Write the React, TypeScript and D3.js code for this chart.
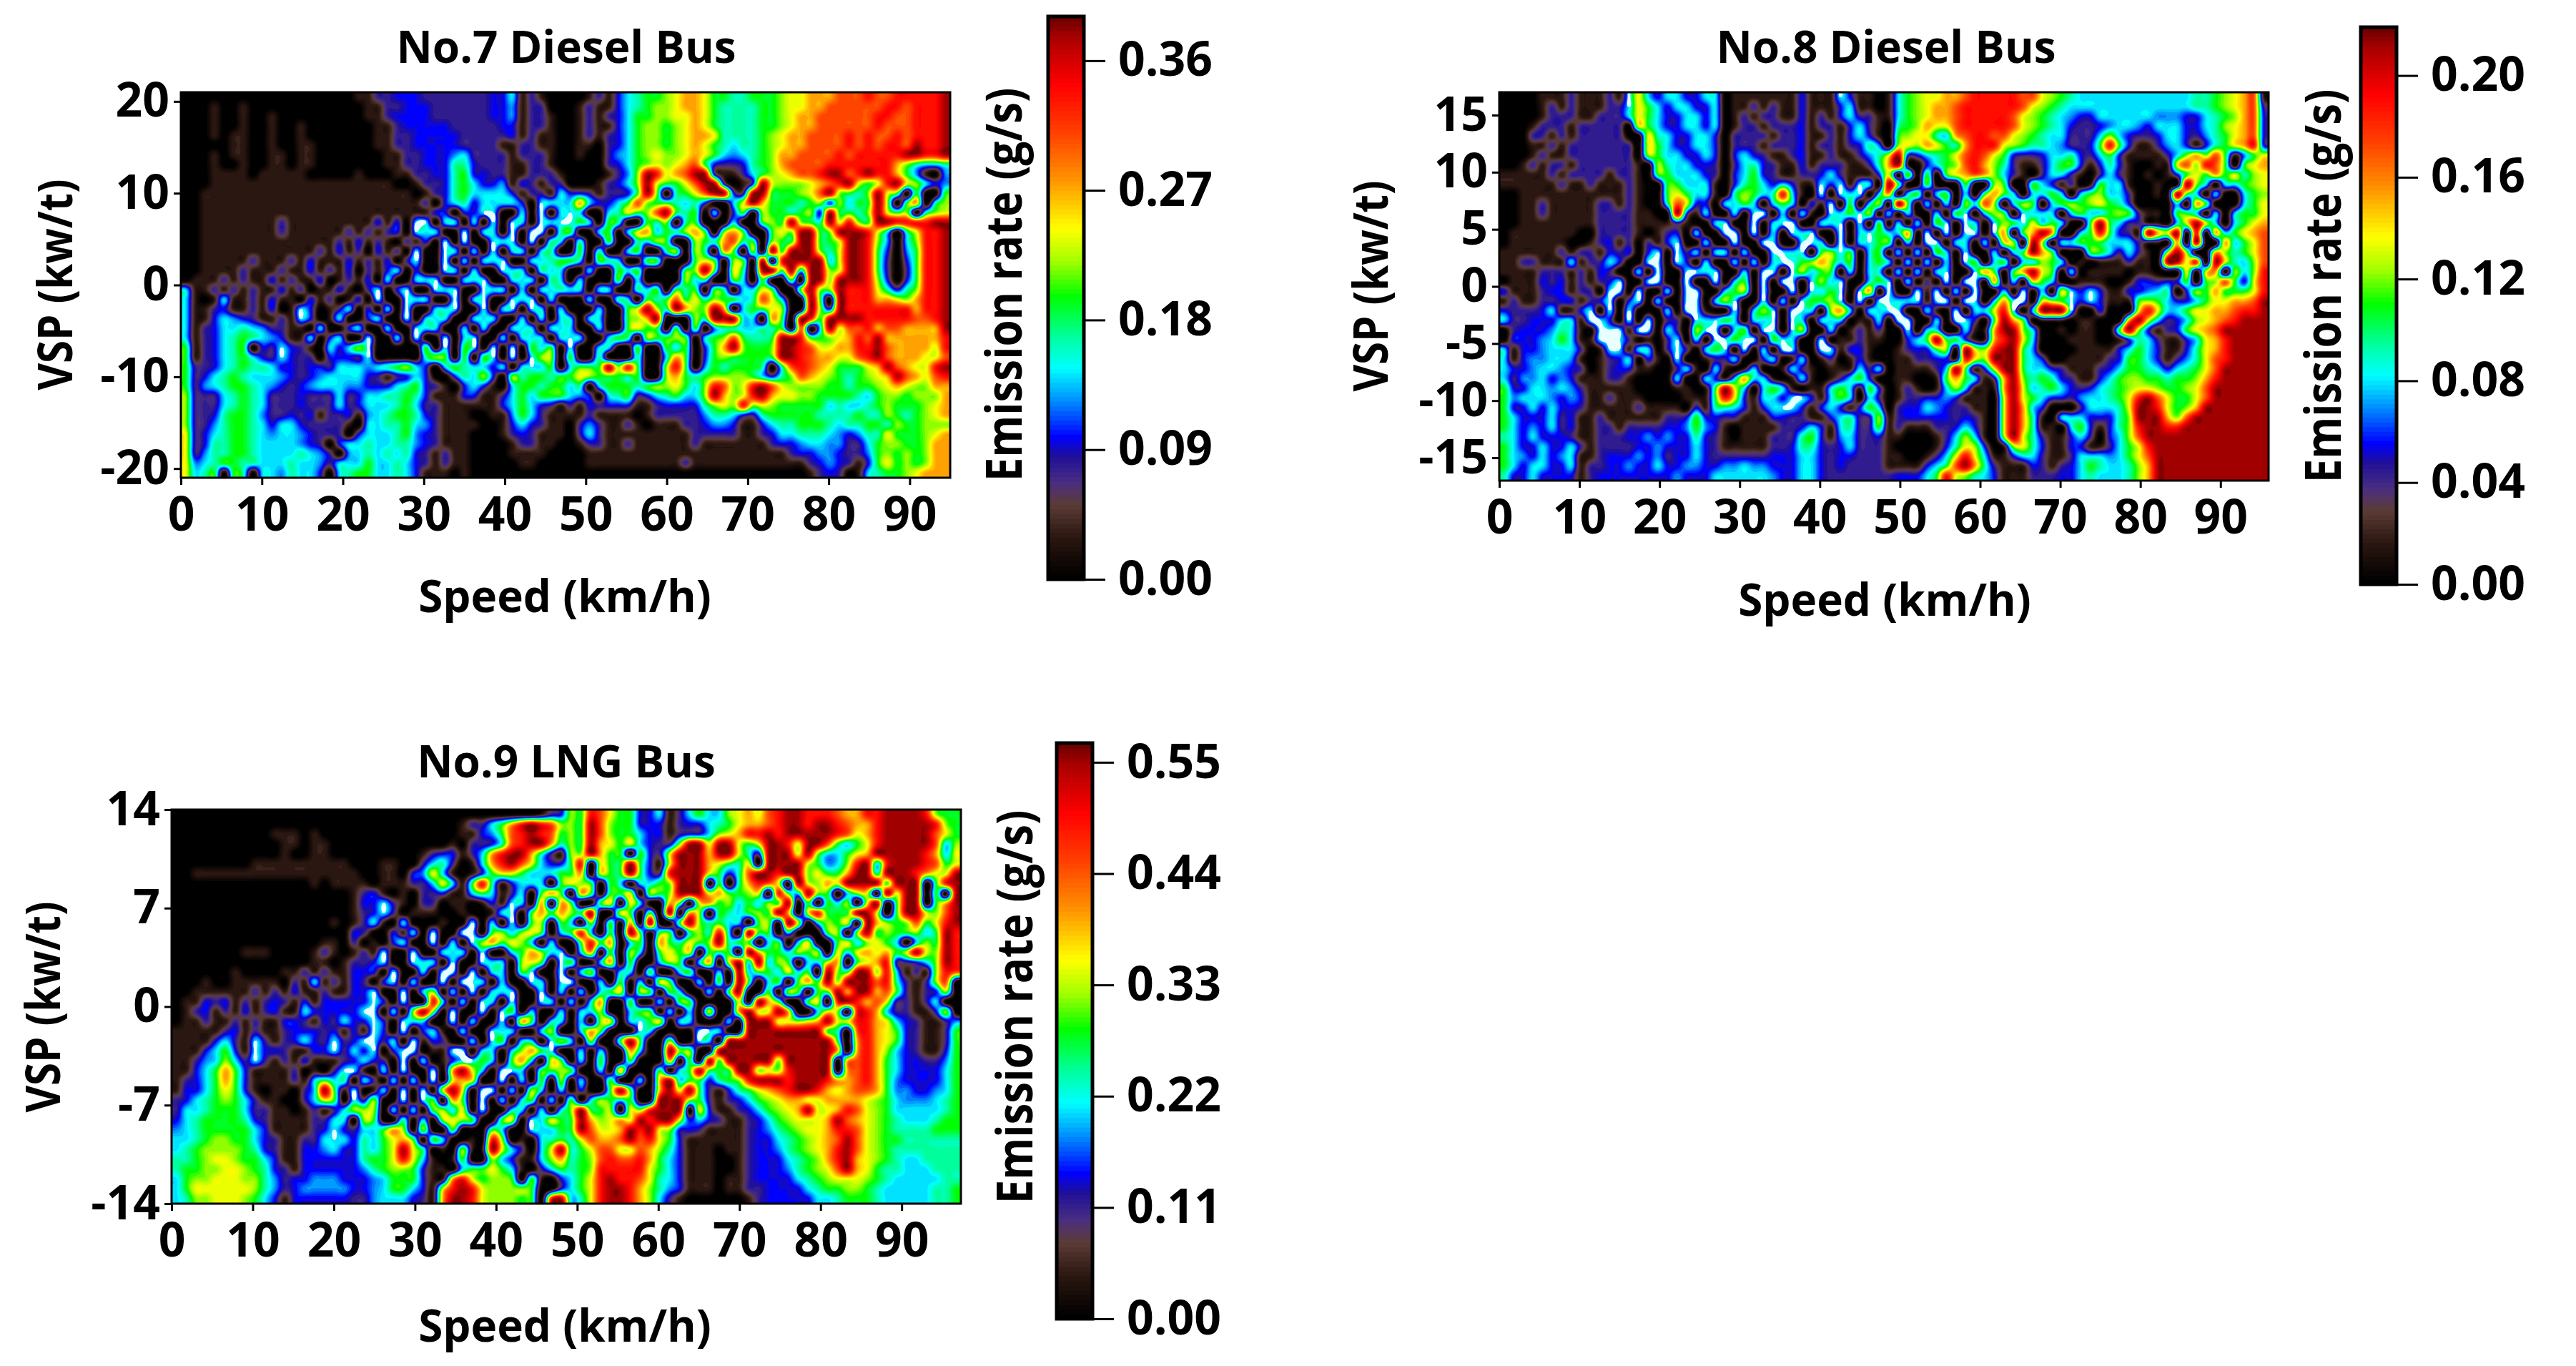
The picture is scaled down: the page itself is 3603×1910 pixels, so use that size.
import { useEffect, useRef } from "react"
import * as d3 from "d3"

// emission level, one character per cell, top row first
// levels run along the colour bar: 0 black ... 5 cyan ... 7 green ... 9 yellow ... d dark red, w = white-hot cyan
const no7Left = [
  "0000000000000000001122333222222233512100",
  "0001001000000000000112233322222233412200",
  "0001001001000000000112333322222233412210",
  "0001001001001000000011233333222223312210",
  "0001011001001000000011223333322222312110",
  "0000011001001100000011223333322221122110",
  "0001011001101100000001122333452222122210",
  "0001001001101100000001122333663222112210",
  "0001111011111000001000112233673322112221",
  "0001111111111111111111001223675334132122",
  "0011111111111111111111110123675w5w312215",
  "0011111111111111111111111203563555w30w5w",
  "0011111111111111111111111133033ww00w0w05",
  "001111111121111111113130ww05w0w0w0w50w5w",
  "001111111121111112121230w5w00w0w50w0ww06",
  "001111111111111121312102130w0w00w5w0w065",
  "0011111111111121312031 20w00w50w0w05w0w60",
  "00111112111213111312 1302w00w050w5w00w567",
  "00111121112113121302 13w0300w50w00w5w06w5",
  "01112121131211301213 0w00w5w00w5w00w5w065",
  "51121212113120113102w03w00w5w00w5w0w0w56",
  "5101w112131103120130w00w5w00w05w00w5w050",
  "511231121301w3012w030w0w00w5w00w05w0w50w",
  "511354321121w301w003w00w0w5w00w5w00w0w05",
  "51235565422110w003w00w00w5w00w0w00w5w0w5",
  "5123567654311w03w00w00w0w00w05w00w0w5w05",
  "7123567032w3210w3w8w0000070w07w0w0w07570",
  "7123567532w32203332w000006870707w0w0w880",
  "7223567665332332555456785305765w3w05w570",
  "7235676555432345555321235300365830867767",
  "724567765432345554433356732103w310577677",
  "8222567652223222523556676311133112575777",
  "8222567652223222523555675221111113575321",
  "8223677642232312231456776321110011475211",
  "8224677653553222210556675421111001353211",
  "9235677654554322203555674321110001232111",
  "9236677655554320355655664321110000122110",
  "9246677655556542045656563212110000111100",
  "9456776655565542555755653212110000011000",
  "9567076055465530567755653111010000000000",
]
const no7Right = [
  "001213567789aa97766777899aaabbbcbbcccccd",
  "012113567889aa97666677899aabbbbbbccbcccd",
  "0121235778899a9766667789aabbbbbbccbbcccd",
  "0121135788789a9766667789aabbbbbbcbbbcccd",
  "0121235788789aa96666789aabbbbcbcbbcbcccd",
  "0110235788789a976566789aabbbbcbcbccbdccd",
  "0100245789889a97545678aabbbbcbcccccddccd",
  "000023578989ab73223678abbbbccccccca86556",
  "00001248dc9abdd21125789abbcddbcdcca74104",
  "00012358d9779bdd2013d98889abcd979cd98534",
  "33212237d80679bdd32dd77789bd8768d9707007",
  "5a53357b87765630059da77767838577d807a068",
  "w50056978bd7670w03708776783d7768d9780689",
  "w75076007680670005007 87d876d9c87ddccccdd",
  "70057059a5768a708a700798dd78dddc95069ccd",
  "0600700658700876ab670877dd779ddc84058ccd",
  "0706005700680860a7080d7ddd869ddc73047ccd",
  "75076500770007970870d0cdddd59ddc72037ccd",
  "00500757000078d70960dd7d5dd89ddc72027ccd",
  "0500070500008560075070070dd8dddc83037ccd",
  "5w05w00657076707605597008d88dccc96368ccd",
  "00500650767b79687756b9500d70dcccaa98accd",
  "00050079d96da88da05779800d83dcccccccaccd",
  "w05w0078ad00086ddd550a70dc7ddddcccccbbcd",
  "5005007977070704665 56670b05d9bbcabbaaaad",
  "w5005760877870578b7667ddc7789acbdaaaaaac",
  "w00w500700757037ad8778ddcb99aaccdbaaaa9c",
  "70060006005a7037877777ddcbaa99bcdbaaa99b",
  "5777d8c7008c70476777606bcba97779adba99cd",
  "79877767008a767888875368ba9876789adba9bc",
  "560577767889758cb89cdb988887767789a988aa",
  "543056723567558da89cda99887777657887888a",
  "213233311233336898c89877777565567877789a",
  "112111101222224665326777776666766876789a",
  "02421121011122344311356677765 6677687788 8a",
  "0252111111111222221123556665434669777 89a",
  "0122112111111211111112334554422578877 8aa",
  "00111111111111111111111233443224787878aa",
  "001111111111211111111111123432 13797878aa",
  "00000000000000000000000001232015677 89aa",
]

const no8Left = [
  "0000111211121w9535533550111111 13111w3110",
  "0000121211122w9753553350112121 1311135110",
  "000012221122259753355350121221 1312135221",
  "000122212222209753355350122122 2312213521",
  "000221212222200965335530222212 2311213531",
  "000112122222220975335530222122 2312212364",
  "000121122222220875533530353211 2311211246",
  "001212212222221086553320256321 1312221126",
  "1111121222212210775553203573211223521113",
  "1111112112111210077555103675353 11w3w1w50",
  "001111111111121007975510687 56c510w0w5w05",
  "00112111112212100 6b9330w575057w031w070w8",
  "001121111122221100d31w00w0ww050w10w57w80",
  "00111111112222111121005w00w05ww00w5w0w07",
  "0111111100222210123 0w00ww0w050w5w00w05w7",
  "011111100123120213w00w00w00ww00ww50w05w7",
  "1111112122132303w0w2w0w50w00ww5w078w7057",
  "1122111w122w300ww0w30w00w0w05ww78a8570w7",
  "11112221213200w0w00ww5w00w0ww0w85770w05w",
  "011132312123w00ww00w00w0w70w0ww0w85w00w7",
  "31112331220ww0w00w0ww00w780w00w0w57w0wa0",
  "12112233123w03w0w00ww0w8w00w050w778w0w0w",
  "32223w113w0w0w000w0wW100w058w0ww508aw0w5",
  "5223335w1ww30w0w0220w5w750w5w0w50w5w011w",
  "0233346510www1ww0w208ww0w70ww0w800w01212",
  "0333457511www20102w0w0ww7ww07w500w011211",
  "51334555201ww1w502w20w7w0w0w0ww00ww13310",
  "5134455410123w0310w00122w003w01501201310",
  "5334554320123311002w10w101w001w210111w2w",
  "524453431112210000w00531wa5w101w10125730",
  "7335545421111100001 1017d9505751011575173",
  "74555434311211100001117c9315w3ww31575052",
  "73353533211111211110316653135ww313531375",
  "7533352311211111122373322111332211356228",
  "7534352311221222233474310111122353156227",
  "6535333211222334343363210111222673145223",
  "7533533521222233433353211111223663235222",
  "7543534511233343423353222222333553233222",
  "7535533512233433533443344544333553232222",
  "6335333312333333334333555555433553222222",
]
const no8Right = [
  "157899aabcccccbb98765555555555556 6789ab1",
  "15789aabccccccb987655555555555556 6789ab2",
  "15789aabcccccb98765433555555444335678ab3",
  "0678a99bcccccb98765322345543555335689ab3",
  "0789965abccbb98765522258532235 5324679ab3",
  "0898a976accc98766542237c7311245313679ac3",
  "9d335679bcb973223556325731111258a8b71479",
  "ad103578bca862112577313631001 19b8cb7079a",
  "90807079aba85210255210252101013797a79689",
  "d700700070087007w3120175w100100d8w0w5789",
  "a0w70w70507a750w575057855200 10d7w0w00578",
  "0d70w0w08wb80w87057878976300 0050a7000579",
  "w0w00w07w0w870w5w50w755787211077w050w779",
  "0w0w07w0w50w87w9575007d752211059d950579a",
  "w5a0w0w0ww0wa07ada0057c7321da9d0c0a579ab",
  "70w0ww0w50w0980d80w57775w52110a0d00a579b",
  "0w0w0750w00w0w7da7000775252108d800a8679b",
  "w050w050w70570w58750101112110dd9c0d9658b",
  "0w0w05w00wa707ad970w01111011000909a0858c",
  "w0w020w0ww0a0w097w00111001332337078b739c",
  "w00w1w0w0w00w0w0w09w3w311334560387a7779c",
  "w55w1ww0ww0waww0987w3w31117875335799aabd",
  "ww00w10w05w9cw0wdddw0030009c955799aabccd",
  "0ww00w0ww207da70111011000ad9523589abcddd",
  "00w0w500511add850010110 07d8312379abdddd",
  "00357d77311acd950001110013652 11359acdddd",
  "01233780d98cdd7400001111357531 1369acdddd",
  "01122331c98ddd75300111123775312469bcdddd",
  "0111125d7139dd755321112357765 35679bddddd",
  "0110017a7w12ad8676321135788776778acddddd",
  "012101585111ad9567532356789987789bdddddd",
  "0122334311109d975332455679cdb9779bdddddd",
  "0233543221109da53000255569ddc978addddddd",
  "1233333232109da6105w533368ddda8bdddddddd",
  "1211122353109da61105731368cddccddddddddd",
  "1100012585108d962113520358bddddddddddddd",
  "10000136983018963113311 2579cdddddddddddd",
  "110012 59c95113552112555 4579bdddddddddddd",
  "1111357bda62111321235765568adddddddddddd",
  "233357c98653111222335655568adddddddddddd",
]

const no9Left = [
  "00000000000000000000000000000000000001 2368acdb9635",
  "00000000000000000000000000000122 57acdcb853",
  "00000000001110100000000000000113 47bcdcb742",
  "00000000000110110000000000001022 36bcdda621",
  "00000000000100110000000001233 1 25acdda621",
  "000000001111111111000110025620 15acdb9533",
  "001111111111111111100110349510 1379975557",
  "000000000000001011110111225951 7c6135w507",
  "000000000000000000123101022311 57512w07a7",
  "000000000000000000133w210220110 131w50a0a7",
  "000000000000000000123w201110010 015w07a7a0",
  "00000000000000001012w10w000100 w050w07807",
  "000000000000000000320031w0w00w w078589 70w",
  "00000000000000011020103w00w0w0 w8a79850w0",
  "000000011100001210121w00w00w5w 0w00w7a85w",
  "000000000000001101223w00w5w0w0 0w5w08970w",
  "00000010000112121133 30w00w0ww0 w0w507w00w",
  "0001001111102 1w12132 03w0w00w0w w50w00w50w",
  "00111111212131121133 w00w0w80w0 w0w5w00w05",
  "01132312123213133333 w30w00c50w 0w50w00w50",
  "0123121312311w33333w w0w08d80w0 0w0w70w00w",
  "01121121211332132w33 w30w5w00w0 w00w0a70w5",
  "11111231211233323131 w30w03w10w 00w5w00w80",
  "11113521w2123w32w23w w2w0w13200 w0w70w50w8",
  "11135731w3321133w2w3 w03ww011ww 0w50w8a7w0",
  "11245852w2121311123w 320w0w013w w7w07a5097",
  "11357a73111120102ww1 0w0w00w0ad 950ww50778",
  "12357a73111121575 60w 20w0w0w09a 900w0w0708",
  "133579731011025d71w0 1w0w0w09d9 0ww0w0850w",
  "235678752110025970w2 800w0w70a7 0w0w0w70w0",
  "25567775221101212588 8050w07859 0w00w50w0w",
  "35677776321111225508 7006050898 700790w597",
  "4567777753111123w32w 57a8080070 007500w557",
  "5567887753211225w536 579a707w00 10c8010567",
  "56788887632113345336 579d960108 11d952059d",
  "66789987753113333336 779c951017 008531158a",
  "67788998763213333334 6788731105 7797510257",
  "57889998864233444333 45777311ac 9788707103",
  "57999999864234444433 45775319cd c988887003",
  "56889998753133333322 4555321add c9888770cd",
]
const no9Right = [
  "87cb97733512575589a9bcddcccbaaccddddc877",
  "87db87733312335679aabcddcddcbaacdddddc87",
  "87db8775331233589accdcdddddcb9acdddddb97",
  "87da97953228dd9dd979ddc9ddb7579cdddddb58",
  "88da7707329dddadd962ddd9d85579adddddca59",
  "7c0977d7319ddda97690dddd97458cd5cdddcb79",
  "7a0977d732cddd9736bddcdd8977add6dddca99d",
  "98707505578ddd0706acb90d98a9dddd7ddd07cd",
  "0a707790878ddd9a77890c75d8705890d9dd070d",
  "7007909500a709a7857587d07075809d07dd07ad",
  "87d0097070d0a80765787da09c777dd907dd98bd",
  "508070a0d007d867550780d9058790da878b79cd",
  "7c5070d70770686c50d77050007808d7877857dc",
  "07c7a0570a76978d67705705900795 89750587dc",
  "05a070850797907670da7758780959a9a79d98dc",
  "7005a070058705a09d5d5870559a079ac22358dc",
  "0w800w50700w70050d57759570d87dd8c51218cb",
  "w00w0705097005070d705707a7d8dddbc62128b0",
  "0w057908707w00507d007087077daddab7212380",
  "w05a00700w077000090da700790cdcab9221250",
  "05w800w7705050900ad99da005980cca52211380",
  "0w08905w790w5000w0ddd9989ad99cca95321124",
  "05a7000w50000ww500dddddddd760bca97321127",
  "w08007d700800w50ddddddddddd70aca97321127",
  "050500a500d8800dddddddddddda0aca85321137",
  "0w07007000a070d7ddddd8ddddd0abca75332247",
  "70050a0007057d777dd898cdddd0abca75333357",
  "050070050ad5773678cdddcdddcaabca74333357",
  "03007d700ad9d7213679abcddca9abba74433457",
  "705875700ddd8721235789aa99aaaa9875444567",
  "8d778098cddd09311235789ad99acb9875555567",
  "7da89a9dcdd935321123578999adba9876555677",
  "7db99adcd98332111123467899accb9876666777",
  "69baabdbc97311111123356789abdb9877666666",
  "679bb99ba86311101123346789acdb9876666666",
  "678bcbbca75311100123335678acda9876556666",
  "678ccccc9753111001233346789bda9766555666",
  "579cdccb9653111011233335678999 8765555566",
  "579cddca86431110112233335677887655555667",
  "569cddca85210000001233333556777655555667",
]

const levelChars = "0123456789abcd"
const levelFractions = [0, 0.08, 0.205, 0.25, 0.32, 0.37, 0.43, 0.5, 0.56, 0.62, 0.7, 0.79, 0.87, 0.97]

// colour bar stops, bottom to top
const barStops = [0, 0.07, 0.13, 0.168, 0.215, 0.25, 0.315, 0.372, 0.43, 0.5, 0.56, 0.62, 0.71, 0.79, 0.876, 0.96, 1]
const barColors = ["#000000", "#2a1610", "#5c3c36", "#4a2f80", "#201098", "#0000ff", "#0090ff", "#00ffff", "#00ff99", "#00ff00", "#a0ff00", "#ffff00", "#ff9000", "#ff4000", "#ff0000", "#a80000", "#600000"]

const no7Ticks = { x: d3.range(0, 100, 10), y: [-20, -10, 0, 10, 20], bar: [0, 0.09, 0.18, 0.27, 0.36] }
const no8Ticks = { x: d3.range(0, 100, 10), y: [-15, -10, -5, 0, 5, 10, 15], bar: [0, 0.04, 0.08, 0.12, 0.16, 0.2] }
const no9Ticks = { x: d3.range(0, 100, 10), y: [-14, -7, 0, 7, 14], bar: [0, 0.11, 0.22, 0.33, 0.44, 0.55] }

const panels = [
  {
    title: "No.7 Diesel Bus", left: no7Left, right: no7Right, ticks: no7Ticks,
    xMax: 95, yMax: 21, barMax: 0.3907,
    box: { x0: 253, x1: 1329, y0: 129, y1: 668 },
    bar: { x: 1466, w: 50, y0: 23, y1: 810 },
    titlePos: [792, 64], speedPos: [790, 832], vspX: 75, emitX: 1402, labelY: 398,
  },
  {
    title: "No.8 Diesel Bus", left: no8Left, right: no8Right, ticks: no8Ticks,
    xMax: 96, yMax: 17, barMax: 0.219,
    box: { x0: 2097, x1: 3173, y0: 129, y1: 672 },
    bar: { x: 3302, w: 50, y0: 38, y1: 817 },
    titlePos: [2638, 64], speedPos: [2636, 837], vspX: 1915, emitX: 3247, labelY: 400,
  },
  {
    title: "No.9 LNG Bus", left: no9Left, right: no9Right, ticks: no9Ticks,
    xMax: 97.3, yMax: 14, barMax: 0.569,
    box: { x0: 240, x1: 1344, y0: 1132, y1: 1683 },
    bar: { x: 1478, w: 50, y0: 1039, y1: 1844 },
    titlePos: [792, 1063], speedPos: [790, 1852], vspX: 58, emitX: 1417, labelY: 1408,
  },
]

const COLS = 80
const ROWS = 40
const UP = 4

// rows were typed by hand, so tidy them to the grid width
const fit = (row: string, n: number) => {
  const r = row.replace(/ /g, "").toLowerCase()
  return r.padEnd(n, r[r.length - 1]).slice(0, n)
}

function cubic(a: number, b: number, c: number, d: number, t: number) {
  return b + 0.5 * t * (c - a + t * (2 * a - 5 * b + 4 * c - d + t * (3 * (b - c) + d - a)))
}

// resample the read grid so the contours come out round
function resample(grid: number[], w: number, h: number) {
  const at = (i: number, j: number) => grid[Math.max(0, Math.min(h - 1, j)) * w + Math.max(0, Math.min(w - 1, i))]
  const out = new Float64Array(w * UP * h * UP)
  for (let y = 0; y < h * UP; y++) {
    const sy = (y + 0.5) / UP - 0.5
    const j = Math.floor(sy)
    for (let x = 0; x < w * UP; x++) {
      const sx = (x + 0.5) / UP - 0.5
      const i = Math.floor(sx)
      const col = [-1, 0, 1, 2].map((dj) =>
        cubic(at(i - 1, j + dj), at(i, j + dj), at(i + 1, j + dj), at(i + 2, j + dj), sx - i)
      )
      out[y * w * UP + x] = cubic(col[0], col[1], col[2], col[3], sy - j)
    }
  }
  return out
}

export default function App() {
  const svgRef = useRef<SVGSVGElement>(null)

  useEffect(() => {
    if (!svgRef.current) return
    const svg = d3.select(svgRef.current)
    svg.selectAll("*").remove()

    panels.forEach((p) => {
      const g = svg.append("g")
      const { x0, x1, y0, y1 } = p.box
      const rows = p.left.map((r, i) => fit(r, COLS / 2) + fit(p.right[i], COLS / 2))
      const chars = rows.join("").split("")

      const color = d3
        .scaleLinear<string>()
        .domain(barStops.map((s) => s * p.barMax))
        .range(barColors)
        .clamp(true)

      const values = chars.map((c) => levelFractions[Math.max(0, levelChars.indexOf(c === "w" ? "5" : c))] * p.barMax)
      const hot = chars.map((c) => (c === "w" ? 1 : 0))

      const gw = COLS * UP
      const gh = ROWS * UP
      const sx = d3.scaleLinear().domain([0, gw]).range([x0, x1])
      const sy = d3.scaleLinear().domain([0, gh]).range([y0, y1])
      const path = d3.geoPath(
        d3.geoTransform({
          point(x, y) {
            this.stream.point(sx(x), sy(y))
          },
        })
      )

      g.append("rect").attr("x", x0).attr("y", y0).attr("width", x1 - x0).attr("height", y1 - y0).attr("fill", "#000")

      const field = Array.from(resample(values, COLS, ROWS), (v) => Math.max(0, Math.min(p.barMax, v)))
      const thresholds = d3.range(1, 56).map((i) => (i / 56) * p.barMax)
      const contours = d3.contours().size([gw, gh]).thresholds(thresholds)(field)
      g.selectAll("path.level")
        .data(contours)
        .join("path")
        .attr("class", "level")
        .attr("d", (d) => path(d))
        .attr("fill", (d) => color(d.value))

      const hotField = Array.from(resample(hot, COLS, ROWS))
      g.selectAll("path.hot")
        .data(d3.contours().size([gw, gh]).thresholds([0.95])(hotField))
        .join("path")
        .attr("class", "hot")
        .attr("d", (d) => path(d))
        .attr("fill", "#e8ffff")

      // axes
      const x = d3.scaleLinear().domain([0, p.xMax]).range([x0, x1])
      const y = d3.scaleLinear().domain([-p.yMax, p.yMax]).range([y1, y0])
      const xAxis = g
        .append("g")
        .attr("transform", `translate(0,${y1})`)
        .call(d3.axisBottom(x).tickValues(p.ticks.x).tickSize(10).tickPadding(17).tickFormat((d) => String(d)))
      const yAxis = g
        .append("g")
        .attr("transform", `translate(${x0},0)`)
        .call(d3.axisLeft(y).tickValues(p.ticks.y).tickSize(10).tickPadding(6).tickFormat((d) => String(d)))
      g.append("rect")
        .attr("x", x0).attr("y", y0).attr("width", x1 - x0).attr("height", y1 - y0)
        .attr("fill", "none").attr("stroke", "#000").attr("stroke-width", 3)

      // colour bar
      const bar = p.bar
      const barY = d3.scaleLinear().domain([0, p.barMax]).range([bar.y1, bar.y0])
      const bands = d3.range(0, 120).map((i) => (i / 120) * p.barMax)
      g.append("g")
        .selectAll("rect")
        .data(bands)
        .join("rect")
        .attr("x", bar.x)
        .attr("width", bar.w)
        .attr("y", (d) => barY(d + p.barMax / 120))
        .attr("height", (d) => barY(d) - barY(d + p.barMax / 120) + 1)
        .attr("fill", (d) => color(d))
      g.append("rect")
        .attr("x", bar.x).attr("y", bar.y0).attr("width", bar.w).attr("height", bar.y1 - bar.y0)
        .attr("fill", "none").attr("stroke", "#000").attr("stroke-width", 5)
      const barAxis = g
        .append("g")
        .attr("transform", `translate(${bar.x + bar.w},0)`)
        .call(d3.axisRight(barY).tickValues(p.ticks.bar).tickSize(30).tickPadding(18).tickFormat(d3.format(".2f")))

      ;[xAxis, yAxis, barAxis].forEach((a) => {
        a.select(".domain").remove()
        a.selectAll("line").attr("stroke", "#000").attr("stroke-width", 3)
        a.selectAll("text")
          .attr("font-family", "'Open Sans', sans-serif")
          .attr("font-weight", 700)
          .attr("font-size", 66)
          .attr("fill", "#000")
      })

      // labels
      const label = (text: string, transform: string, size: number) =>
        g.append("text")
          .attr("transform", transform)
          .attr("text-anchor", "middle")
          .attr("dominant-baseline", "central")
          .attr("font-family", "'Open Sans', sans-serif")
          .attr("font-weight", 700)
          .attr("font-size", size)
          .attr("fill", "#000")
          .text(text)
      label(p.title, `translate(${p.titlePos[0]},${p.titlePos[1]})`, 62)
      label("Speed (km/h)", `translate(${p.speedPos[0]},${p.speedPos[1]})`, 62)
      label("VSP  (kw/t)", `translate(${p.vspX},${p.labelY}) rotate(-90) scale(1,1.15)`, 58)
      label("Emission rate (g/s)", `translate(${p.emitX},${p.labelY}) rotate(-90) scale(1,1.15)`, 60)
    })
  }, [])

  return (
    <svg
      ref={svgRef}
      width={3603}
      height={1910}
      style={{ position: "absolute", left: 0, top: 0, background: "#fff", display: "block" }}
    />
  )
}
